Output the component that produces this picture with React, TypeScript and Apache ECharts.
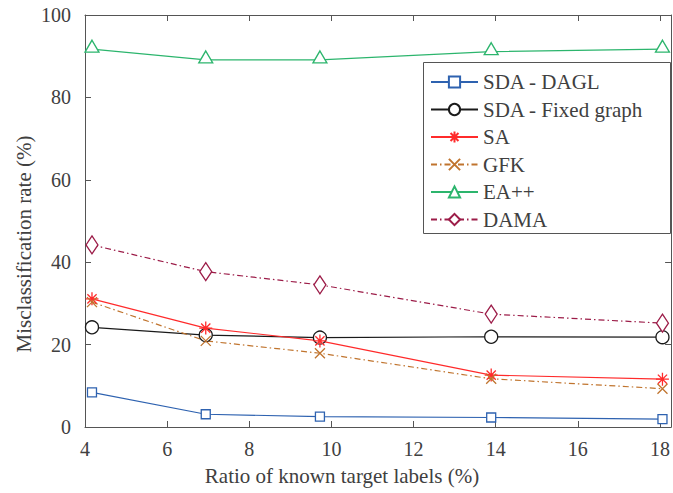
import React, { useEffect, useRef } from "react";
import * as echarts from "echarts";

const xRatios = [4.17, 6.94, 9.72, 13.89, 18.06];
const sdaDagl = [8.4, 3.1, 2.5, 2.3, 1.9];
const sdaFixed = [24.2, 22.3, 21.7, 21.9, 21.8];
const sa = [31.1, 24.0, 20.9, 12.6, 11.6];
const gfk = [30.3, 20.9, 17.9, 11.7, 9.3];
const eaPP = [91.7, 89.1, 89.1, 91.1, 91.7];
const dama = [44.2, 37.7, 34.5, 27.4, 25.2];

const seriesNames = ["SDA - DAGL", "SDA - Fixed graph", "SA", "GFK", "EA++", "DAMA"];
const xTitle = "Ratio of known target labels (%)";
const yTitle = "Misclassification rate (%)";

const FONT = "'Liberation Serif', 'DejaVu Serif', serif";
const TEXT = "#404040";
const AXIS = "#555555";

const ASTERISK = "path://M0,-10L0,10M-10,0L10,0M-7.07,-7.07L7.07,7.07M-7.07,7.07L7.07,-7.07";
const CROSS = "path://M-10,-10L10,10M-10,10L10,-10";

function pairs(ys: number[]) {
  return ys.map((y, i) => [xRatios[i], y]);
}

export default function App() {
  const ref = useRef<HTMLDivElement>(null);
  useEffect(() => {
    if (!ref.current) return;
    const chart = echarts.init(ref.current, undefined, { renderer: "svg" });
    const dashDot = [6, 3, 1.5, 3];
    const mk = (
      name: string,
      ys: number[],
      color: string,
      symbol: string,
      size: number | number[],
      dash: any,
      offset?: number[]
    ) => ({
      name,
      type: "line",
      data: pairs(ys),
      color,
      symbol,
      symbolSize: size,
      symbolOffset: offset || [0, 0],
      showAllSymbol: true,
      lineStyle: { color, width: 1.2, type: dash },
      itemStyle: { color: "#ffffff", borderColor: color, borderWidth: 1.3 },
      emphasis: { disabled: true },
      z: 2,
    });
    const axisCommon = {
      type: "value",
      axisLine: { show: true, onZero: false, lineStyle: { color: AXIS, width: 1 } },
      axisTick: { show: true, inside: true, length: 6, lineStyle: { color: AXIS } },
      splitLine: { show: false },
    };
    chart.setOption({
      animation: false,
      grid: { left: 85, right: 1, top: 15, bottom: 66, containLabel: false },
      xAxis: [
        {
          ...axisCommon,
          position: "bottom",
          min: 4,
          max: 18.27,
          interval: 2,
          axisLabel: {
            show: true,
            color: TEXT,
            fontFamily: FONT,
            fontSize: 20,
            margin: 12,
            showMaxLabel: false,
          },
        },
        {
          ...axisCommon,
          position: "top",
          min: 4,
          max: 18.27,
          interval: 2,
          axisLabel: { show: false },
        },
      ],
      yAxis: [
        {
          ...axisCommon,
          position: "left",
          min: 0,
          max: 100,
          interval: 20,
          axisLabel: { show: true, color: TEXT, fontFamily: FONT, fontSize: 20, margin: 14 },
        },
        {
          ...axisCommon,
          position: "right",
          min: 0,
          max: 100,
          interval: 20,
          axisLabel: { show: false },
        },
      ],
      legend: {
        orient: "vertical",
        left: 430,
        top: 71.5,
        padding: 0,
        itemWidth: 47,
        itemHeight: 14,
        itemGap: 6.5,
        data: seriesNames,
        textStyle: { color: TEXT, fontFamily: FONT, fontSize: 21, lineHeight: 20 },
        z: 5,
      },
      graphic: [
        {
          type: "rect",
          z: 3,
          shape: { x: 423.5, y: 62.5, width: 247, height: 171 },
          style: { fill: "#ffffff", stroke: AXIS, lineWidth: 1 },
        },
        {
          type: "text",
          x: 342,
          y: 476,
          style: {
            text: xTitle,
            fill: TEXT,
            font: `21px ${FONT}`,
            align: "center",
            verticalAlign: "middle",
          },
        },
        {
          type: "text",
          x: 24,
          y: 244,
          rotation: Math.PI / 2,
          style: {
            text: yTitle,
            fill: TEXT,
            font: `21px ${FONT}`,
            align: "center",
            verticalAlign: "middle",
          },
        },
      ],
      series: [
        mk(seriesNames[0], sdaDagl, "#2e62b0", "rect", 9, "solid"),
        mk(seriesNames[1], sdaFixed, "#1a1a1a", "circle", 13, "solid"),
        mk(seriesNames[2], sa, "#ff2b2b", ASTERISK, 13, "solid"),
        mk(seriesNames[3], gfk, "#c0742e", CROSS, 10, dashDot),
        mk(seriesNames[4], eaPP, "#2cb56d", "triangle", [14, 12], "solid", [0, -3]),
        mk(seriesNames[5], dama, "#9c1c48", "diamond", [12, 18], dashDot),
      ],
    });
    return () => chart.dispose();
  }, []);
  return <div ref={ref} style={{ width: 673, height: 493, position: "absolute", left: 0, top: 0 }} />;
}
